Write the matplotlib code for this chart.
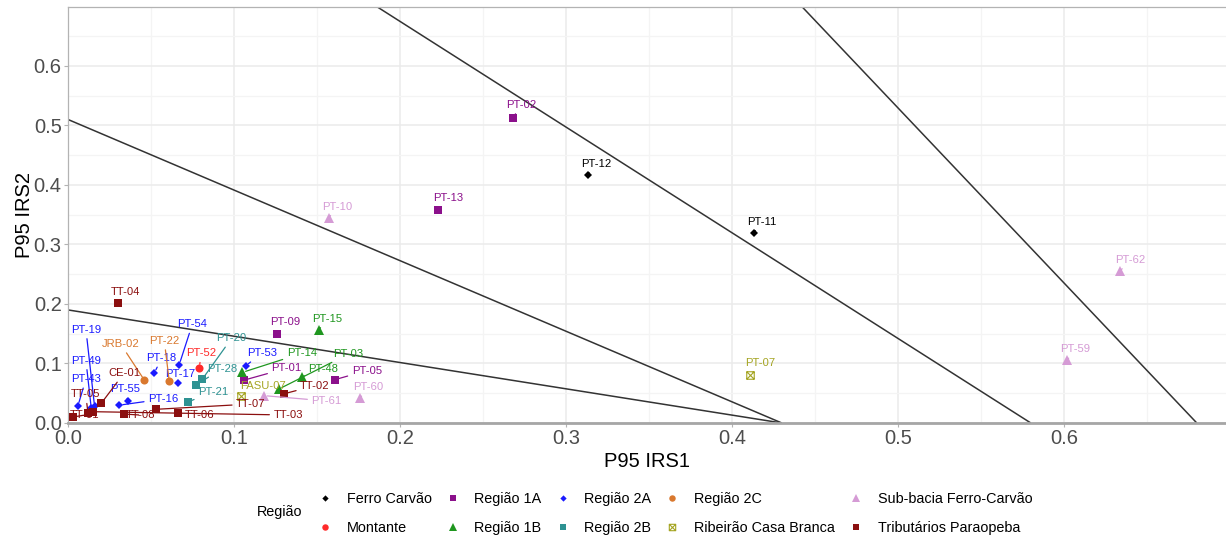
import matplotlib
matplotlib.use("Agg")
import matplotlib.pyplot as plt
from matplotlib.path import Path
from matplotlib.lines import Line2D

plt.rcParams["font.family"] = ["Liberation Sans", "DejaVu Sans"]

# --- data -------------------------------------------------------------
sites = ["PT-12", "PT-11",
         "PT-52",
         "PT-02", "PT-13", "PT-09", "PT-01", "PT-05",
         "PT-15", "PT-14", "PT-48", "PT-03",
         "PT-19", "PT-49", "PT-43", "PT-55", "PT-16", "PT-18", "PT-17", "PT-54", "PT-53",
         "PT-20", "PT-28", "PT-21",
         "JRB-02", "PT-22",
         "PT-07", "FASU-07",
         "PT-10", "PT-61", "PT-60", "PT-62", "PT-59",
         "TT-04", "CE-01", "TT-05", "TT-01", "TT-03", "TT-08", "TT-06", "TT-07", "TT-02"]

irs1 = [0.313, 0.413,
        0.079,
        0.268, 0.223, 0.126, 0.106, 0.161,
        0.151, 0.105, 0.141, 0.127,
        0.016, 0.014, 0.006, 0.036, 0.031, 0.052, 0.066, 0.067, 0.107,
        0.081, 0.077, 0.072,
        0.046, 0.061,
        0.411, 0.104,
        0.157, 0.118, 0.176, 0.634, 0.602,
        0.030, 0.020, 0.012, 0.003, 0.015, 0.034, 0.066, 0.053, 0.130]

irs2 = [0.416, 0.319,
        0.093,
        0.513, 0.358, 0.150, 0.072, 0.073,
        0.156, 0.085, 0.078, 0.057,
        0.028, 0.025, 0.029, 0.037, 0.030, 0.084, 0.067, 0.098, 0.096,
        0.074, 0.064, 0.035,
        0.072, 0.070,
        0.081, 0.046,
        0.344, 0.046, 0.042, 0.256, 0.106,
        0.201, 0.033, 0.017, 0.010, 0.019, 0.015, 0.016, 0.023, 0.049]

regiao = (["Ferro Carvão"] * 2 + ["Montante"] + ["Região 1A"] * 5 + ["Região 1B"] * 4
          + ["Região 2A"] * 9 + ["Região 2B"] * 3 + ["Região 2C"] * 2
          + ["Ribeirão Casa Branca"] * 2 + ["Sub-bacia Ferro-Carvão"] * 5
          + ["Tributários Paraopeba"] * 9)

# reference lines: y-intercept (IRS2) and x-intercept (IRS1)
limite_irs2 = [0.19, 0.51, 1.03, 2.00]
limite_irs1 = [0.43, 0.43, 0.58, 0.68]

# --- styles -----------------------------------------------------------
square_cross = Path(
    [(-1, -1), (1, -1), (1, 1), (-1, 1), (-1, -1),
     (-1, -1), (1, 1), (-1, 1), (1, -1)],
    [Path.MOVETO, Path.LINETO, Path.LINETO, Path.LINETO, Path.CLOSEPOLY,
     Path.MOVETO, Path.LINETO, Path.MOVETO, Path.LINETO])

estilo = {
    "Ferro Carvão":           ("#000000", "D", 4.0),
    "Montante":               ("#FF2A2A", "o", 5.8),
    "Região 1A":              ("#8B108B", "s", 5.8),
    "Região 1B":              ("#1F961F", "^", 6.6),
    "Região 2A":              ("#1A1AFF", "D", 4.0),
    "Região 2B":              ("#2E9292", "s", 5.8),
    "Região 2C":              ("#D9782E", "o", 5.8),
    "Ribeirão Casa Branca":   ("#A5A523", square_cross, 5.4),
    "Sub-bacia Ferro-Carvão": ("#D59BD5", "^", 6.6),
    "Tributários Paraopeba":  ("#8B0F0F", "s", 5.8),
}

# label placement (data coordinates)
label_pos = {
    "PT-12": (0.318, 0.435), "PT-11": (0.418, 0.338), "PT-52": (0.0805, 0.117),
    "PT-02": (0.2733, 0.5345), "PT-13": (0.229, 0.378), "PT-09": (0.131, 0.170),
    "PT-01": (0.1317, 0.092), "PT-05": (0.180, 0.088), "PT-15": (0.1562, 0.175),
    "PT-14": (0.1408, 0.117), "PT-48": (0.1538, 0.0908), "PT-03": (0.169, 0.116),
    "PT-19": (0.0108, 0.157), "PT-49": (0.0108, 0.105), "PT-43": (0.0108, 0.074),
    "PT-55": (0.0343, 0.0566), "PT-16": (0.0574, 0.0403), "PT-18": (0.0564, 0.109),
    "PT-17": (0.0675, 0.0824), "PT-54": (0.0749, 0.166), "PT-53": (0.1167, 0.117),
    "PT-20": (0.0986, 0.1424), "PT-28": (0.093, 0.0913), "PT-21": (0.0875, 0.0526),
    "JRB-02": (0.0317, 0.1328), "PT-22": (0.058, 0.1383),
    "PT-07": (0.4169, 0.1003), "FASU-07": (0.1177, 0.0627),
    "PT-10": (0.1619, 0.3636), "PT-61": (0.1558, 0.037), "PT-60": (0.1809, 0.060),
    "PT-62": (0.6398, 0.274), "PT-59": (0.607, 0.1238),
    "TT-04": (0.0349, 0.2207), "CE-01": (0.0337, 0.0835), "TT-05": (0.0107, 0.0482),
    "TT-01": (0.0102, 0.0134), "TT-03": (0.1327, 0.0134), "TT-08": (0.0434, 0.0134),
    "TT-06": (0.0795, 0.0134), "TT-07": (0.1102, 0.0319), "TT-02": (0.1488, 0.0627),
}

# --- figure -----------------------------------------------------------
W, H = 1226, 535
fig = plt.figure(figsize=(W / 100, H / 100), dpi=100)
ax = fig.add_axes([68 / W, 1 - 423 / H, 1 - 68 / W, (423 - 7) / H])

xmax = (W - 68) / 1660
ax.set_xlim(0, xmax)
ax.set_ylim(0, 0.699)

ax.set_xticks([0, 0.1, 0.2, 0.3, 0.4, 0.5, 0.6])
ax.set_yticks([0, 0.1, 0.2, 0.3, 0.4, 0.5, 0.6])
ax.set_xticks([0.05, 0.15, 0.25, 0.35, 0.45, 0.55, 0.65], minor=True)
ax.set_yticks([0.05, 0.15, 0.25, 0.35, 0.45, 0.55, 0.65], minor=True)
ax.set_xticklabels([f"{v:.1f}" for v in ax.get_xticks()])
ax.set_yticklabels([f"{v:.1f}" for v in ax.get_yticks()])
ax.grid(which="major", color="#EBEBEB", lw=1.1, zorder=0)
ax.grid(which="minor", color="#F4F4F4", lw=0.9, zorder=0)
ax.set_axisbelow(True)
ax.tick_params(which="major", labelsize=14.5, labelcolor="#4D4D4D", color="#B3B3B3",
               length=3, width=0.8, pad=1.5)
ax.tick_params(which="minor", length=0)

for side in ("left", "top"):
    ax.spines[side].set_color("#B3B3B3")
    ax.spines[side].set_linewidth(0.9)
ax.spines["right"].set_visible(False)
ax.spines["bottom"].set_color("#A6A6A6")
ax.spines["bottom"].set_linewidth(2.0)

# reference lines
for a, b in zip(limite_irs2, limite_irs1):
    ax.plot([0, b], [a, 0], color="#333333", lw=1.1, zorder=2, solid_capstyle="butt")

# points
for reg, (cor, mk, ms) in estilo.items():
    idx = [i for i, r in enumerate(regiao) if r == reg]
    xs = [irs1[i] for i in idx]
    ys = [irs2[i] for i in idx]
    if mk is square_cross:
        ax.plot(xs, ys, ls="none", marker=mk, ms=ms, mfc="none", mec=cor, mew=0.8, zorder=4)
    else:
        ax.plot(xs, ys, ls="none", marker=mk, ms=ms, color=cor, mew=0, zorder=4)

# labels with leader segments
for s, x, y, reg in zip(sites, irs1, irs2, regiao):
    cor = estilo[reg][0]
    lx, ly = label_pos[s]
    ax.annotate(s, xy=(x, y), xytext=(lx, ly), textcoords="data",
                fontsize=8.1, color=cor, ha="center", va="center", zorder=5,
                arrowprops=dict(arrowstyle="-", color=cor, lw=0.9,
                                shrinkA=1, shrinkB=2.5))

ax.set_xlabel("P95 IRS1", fontsize=14.5, color="black", labelpad=3)
ax.set_ylabel("P95 IRS2", fontsize=14.5, color="black")
ax.yaxis.set_label_coords(-(68 - 34) / (W - 68), 0.5)

# legend
handles = []
for reg, (cor, mk, ms) in estilo.items():
    if mk is square_cross:
        h = Line2D([], [], ls="none", marker=mk, ms=4.6, mfc="none", mec=cor, mew=0.8)
    else:
        h = Line2D([], [], ls="none", marker=mk, ms=ms * 0.8, color=cor, mew=0)
    handles.append(h)
leg = fig.legend(handles, list(estilo.keys()), ncol=5, frameon=False,
                 loc="center left", bbox_to_anchor=(318 / W, 1 - 513.5 / H),
                 prop={"size": 10.4}, handlelength=1.0, handletextpad=1.0,
                 columnspacing=0.95, labelspacing=1.0, borderpad=0,
                 borderaxespad=0)
fig.text(257 / W, 1 - 512 / H, "Região", fontsize=10.4, ha="left", va="center")

fig.savefig("out.png", dpi=100)
